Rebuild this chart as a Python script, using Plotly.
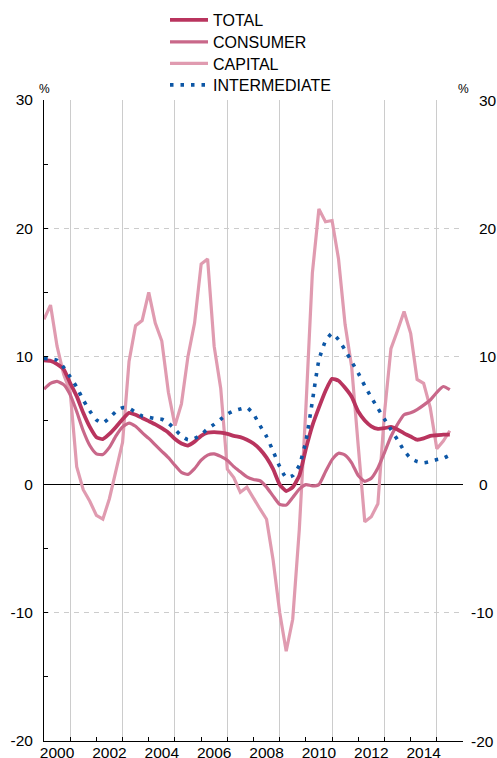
import pandas as pd
import plotly.graph_objects as go

# quarterly observations, Q1 2000 to Q3 2015
quarters = pd.date_range("2000-01-01", periods=63, freq="QS")

total = [9.7, 9.65, 9.4, 9.0, 7.9, 6.9, 5.6, 4.5, 3.7, 3.55,
         3.95, 4.5, 5.1, 5.6, 5.45, 5.2, 4.95, 4.7, 4.4, 4.05,
         3.55, 3.2, 3.05, 3.35, 3.8, 4.05, 4.1, 4.05, 3.95, 3.8,
         3.7, 3.5, 3.2, 2.75, 2.1, 1.2, 0.0, -0.5, -0.2, 0.7,
         2.8, 4.6, 6.0, 7.3, 8.25, 8.1, 7.55, 6.85, 5.7, 5.0,
         4.55, 4.35, 4.4, 4.5, 4.3, 4.0, 3.75, 3.5, 3.6, 3.8,
         3.85, 3.9, 3.9]

consumer = [7.45, 7.9, 8.05, 7.8, 7.0, 5.7, 4.2, 3.05, 2.4, 2.35,
            2.9, 3.8, 4.5, 4.8, 4.55, 4.05, 3.6, 3.1, 2.6, 2.1,
            1.5, 0.95, 0.8, 1.25, 1.9, 2.3, 2.4, 2.2, 1.9, 1.4,
            1.0, 0.6, 0.4, 0.3, -0.2, -0.9, -1.55, -1.6, -1.0, -0.35,
            0.0, -0.1, 0.0, 1.0, 1.95, 2.45, 2.3, 1.7, 0.7, 0.25,
            0.5, 1.3, 2.5, 3.75, 4.7, 5.45, 5.6, 5.85, 6.2, 6.6,
            7.2, 7.65, 7.4]

capital = [12.9, 14.0, 10.8, 8.6, 7.2, 1.4, -0.4, -1.3, -2.4, -2.7,
           -1.1, 1.2, 3.3, 9.6, 12.4, 12.8, 15.0, 12.6, 11.2, 7.2,
           4.6, 6.3, 10.0, 12.6, 17.2, 17.6, 10.8, 7.5, 1.2, 0.55,
           -0.6, -0.2, -1.0, -1.9, -2.7, -5.9, -10.0, -13.0, -10.5, -3.5,
           6.0, 16.5, 21.5, 20.5, 20.6, 17.6, 12.5, 9.2, 3.0, -2.9,
           -2.5, -1.5, 5.6, 10.6, 12.0, 13.5, 11.8, 8.2, 7.9, 6.0,
           2.8, 3.4, 4.2]

intermediate = [9.85, 9.8, 9.7, 9.15, 8.4, 7.6, 6.6, 5.75, 5.05, 4.8,
                5.2, 5.7, 6.0, 5.95, 5.65, 5.35, 5.25, 5.15, 5.1, 4.8,
                4.3, 3.8, 3.5, 3.6, 3.9, 4.35, 4.7, 5.1, 5.5, 5.75,
                5.9, 6.0, 5.5, 4.6, 3.75, 2.6, 1.4, 0.55, 0.7, 1.5,
                3.4, 6.5, 9.7, 11.2, 11.8, 11.3, 10.5, 9.6, 8.7, 7.7,
                6.8, 5.95, 5.1, 4.3, 3.5, 2.65, 2.05, 1.8, 1.7, 1.8,
                1.95, 2.05, 2.3]

year_labels = ["2000", "2002", "2004", "2006", "2008", "2010", "2012", "2014"]
label_dates = [f"{y}-07-01" for y in range(2000, 2016, 2)]
grid_dates = [f"{y}-01-01" for y in range(2001, 2016, 2)]
y_ticks = [-20, -10, 0, 10, 20, 30]
y_text = ["-20", "-10", "0", "10", "20", "30"]

x_range = ["2000-01-01", "2016-01-01"]
font_family = "Liberation Sans, Arial, Helvetica, sans-serif"

W, H = 497, 758

fig = go.Figure()

# drawing order: capital at the back, intermediate on top
fig.add_trace(go.Scatter(
    name="CAPITAL", x=quarters, y=capital, mode="lines", legend="legend3",
    line=dict(color="#e09bb0", width=3.2),
))
fig.add_trace(go.Scatter(
    name="CONSUMER", x=quarters, y=consumer, mode="lines", legend="legend2",
    line=dict(color="#c9688a", width=3.2, shape="spline", smoothing=0.5),
))
fig.add_trace(go.Scatter(
    name="TOTAL", x=quarters, y=total, mode="lines", legend="legend",
    line=dict(color="#b9345e", width=3.8, shape="spline", smoothing=0.5),
))
# on the label axis (same range) so that axis gets drawn
fig.add_trace(go.Scatter(
    name="INTERMEDIATE", x=quarters, y=intermediate, mode="lines", xaxis="x2",
    legend="legend4",
    line=dict(color="#0d57a6", width=3.6, dash="3.5px,7px", shape="spline", smoothing=0.5),
))

tick_style = dict(ticks="inside", ticklen=4, tickcolor="black", tickwidth=1)


def legend_at(center_y):
    return dict(
        xref="container", yref="container",
        x=165 / W, y=1 - center_y / H,
        xanchor="left", yanchor="middle",
        itemwidth=38, bgcolor="rgba(0,0,0,0)",
        font=dict(size=16),
    )


fig.update_layout(
    width=W,
    height=H,
    margin=dict(l=44, r=34, t=100, b=17, autoexpand=False),
    paper_bgcolor="white",
    plot_bgcolor="white",
    font=dict(family=font_family, size=15.5, color="black"),
    showlegend=True,
    legend=legend_at(20),
    legend2=legend_at(42),
    legend3=legend_at(63.5),
    legend4=legend_at(85),
    xaxis=dict(
        type="date", range=x_range,
        tickmode="array", tickvals=grid_dates, showticklabels=False,
        showgrid=True, gridcolor="#cccccc", gridwidth=1,
        showline=True, linecolor="black", linewidth=1, zeroline=False,
        minor=dict(dtick="M12", tick0="2000-01-01", showgrid=False, **tick_style),
        **tick_style,
    ),
    xaxis2=dict(
        type="date", range=x_range, overlaying="x", anchor="y", side="bottom",
        tickmode="array", tickvals=label_dates, ticktext=year_labels,
        ticks="", showgrid=False, showline=False, zeroline=False,
    ),
    yaxis=dict(
        range=[-20, 30], tickmode="array", tickvals=y_ticks, ticktext=y_text,
        showline=True, linecolor="black", linewidth=1,
        showgrid=True, gridcolor="#cccccc", gridwidth=1, griddash="5px,5px",
        zeroline=True, zerolinecolor="black", zerolinewidth=1,
        ticklabelstandoff=7,
        minor=dict(dtick=5, tick0=0, showgrid=False, **tick_style),
        **tick_style,
    ),
    yaxis2=dict(
        range=[-20, 30], overlaying="y", anchor="x", side="right",
        tickmode="array", tickvals=y_ticks, showticklabels=False,
        showline=True, linecolor="black", linewidth=1,
        showgrid=False, zeroline=False,
        minor=dict(dtick=5, tick0=0, showgrid=False, **tick_style),
        **tick_style,
    ),
)

# right-hand labels: digits start at the same x, minus sign hangs to the left
for v, t in zip(y_ticks, y_text):
    fig.add_annotation(
        xref="paper", yref="y", x=1, y=v, text=t, showarrow=False,
        xanchor="right" if v < 0 else "left",
        xshift=33 if v < 0 else 14,
        font=dict(size=15.5),
    )

for side in (0, 1):
    fig.add_annotation(
        xref="paper", yref="paper", x=side, y=1, text="%", showarrow=False,
        xanchor="center", yanchor="bottom", yshift=2, font=dict(size=12),
    )

# drop the default page margin so the figure sits at the window's corner
fig.write_html(
    "out.html",
    config={"displayModeBar": False},
    post_script="document.body.style.margin='0';document.body.style.overflow='hidden';",
)
